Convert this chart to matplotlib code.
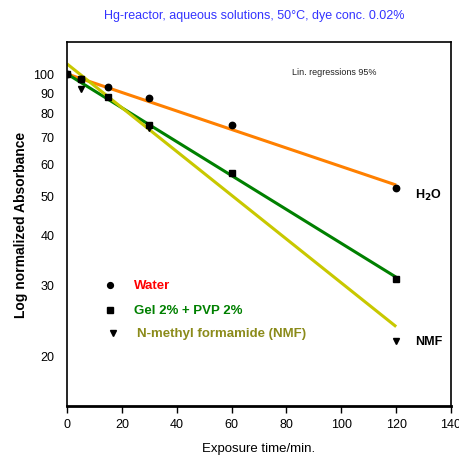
import numpy as np
import matplotlib
matplotlib.use("Agg")
import matplotlib.pyplot as plt
from matplotlib.ticker import FixedLocator, NullFormatter

plt.rcParams['font.family'] = ['Liberation Sans', 'DejaVu Sans']

# measured points
water_t = [0, 5, 15, 30, 60, 120]
water_a = [100, 97, 93, 87, 74.7, 52]
gel_t = [0, 5, 15, 30, 60, 120]
gel_a = [100, 97, 87.8, 74.7, 56.7, 30.9]
nmf_t = [5, 30, 120]
nmf_a = [91.5, 73.5, 21.8]

# regression lines (values at t=0 and t=120)
fit_t = [0, 120]
water_fit = [100, 53]
gel_fit = [100, 31.3]
nmf_fit = [105.9, 23.6]

yticks = [20, 30, 40, 50, 60, 70, 80, 90, 100]
xticks = [0, 20, 40, 60, 80, 100, 120, 140]

fig = plt.figure(figsize=(4.59, 4.56), dpi=100)
ax = fig.add_axes([0.146, 0.1075, 0.8366, 0.7982])

ax.plot(fit_t, water_fit, color='#ff8000', lw=2.2, solid_capstyle='butt')
ax.plot(fit_t, gel_fit, color='#008000', lw=2.2, solid_capstyle='butt')
ax.plot(fit_t, nmf_fit, color='#c8c800', lw=2.2, solid_capstyle='butt')

ax.plot(water_t, water_a, 'o', color='black', ms=4.6, ls='none')
ax.plot(gel_t, gel_a, 's', color='black', ms=4.3, ls='none')
ax.plot(nmf_t, nmf_a, 'v', color='black', ms=4.3, ls='none')

ax.set_yscale('log')
ax.set_xlim(0, 140)
ax.set_ylim(15, 120)
ax.set_yticks(yticks)
ax.set_yticklabels([str(v) for v in yticks], fontsize=9)
ax.yaxis.set_minor_locator(FixedLocator([100]))
ax.yaxis.set_minor_formatter(NullFormatter())
ax.tick_params(axis='y', which='major', length=0, pad=9)
ax.tick_params(axis='y', which='minor', length=5, width=1, direction='out')
ax.set_xticks(xticks)
ax.set_xticklabels([str(v) for v in xticks], fontsize=9)
ax.tick_params(axis='x', length=5, width=1, direction='out', pad=4)

for s in ax.spines.values():
    s.set_linewidth(1.2)
ax.spines['bottom'].set_linewidth(2)

ax.set_xlabel('Exposure time/min.', fontsize=9.5, labelpad=8)
ax.set_ylabel('Log normalized Absorbance', fontsize=10, fontweight='bold', labelpad=4)

fig.text(0.555, 0.965, 'Hg-reactor, aqueous solutions, 50°C, dye conc. 0.02%',
         color='#3333ff', fontsize=9, ha='center', va='center')
ax.text(0.586, 0.918, 'Lin. regressions 95%', transform=ax.transAxes, fontsize=6.5,
        ha='left', va='center', color='#222222')

ax.text(127, 50.3, 'H$_\\mathbf{2}$O', fontsize=9, fontweight='bold', va='center')
ax.text(127, 21.7, 'NMF', fontsize=9, fontweight='bold', va='center')

# legend drawn by hand
ax.plot([15.7], [30.0], 'o', color='black', ms=4.2)
ax.plot([15.7], [26.0], 's', color='black', ms=4)
ax.plot([16.8], [22.8], 'v', color='black', ms=4)
ax.text(24.4, 30.0, 'Water', color='#ff0000', fontsize=9.5, fontweight='bold', va='center')
ax.text(24.4, 26.0, 'Gel 2% + PVP 2%', color='#008000', fontsize=9.5, fontweight='bold', va='center')
ax.text(25.5, 22.8, 'N-methyl formamide (NMF)', color='#8b8b1a', fontsize=9.5, fontweight='bold', va='center')

fig.savefig('out.png', dpi=100)
